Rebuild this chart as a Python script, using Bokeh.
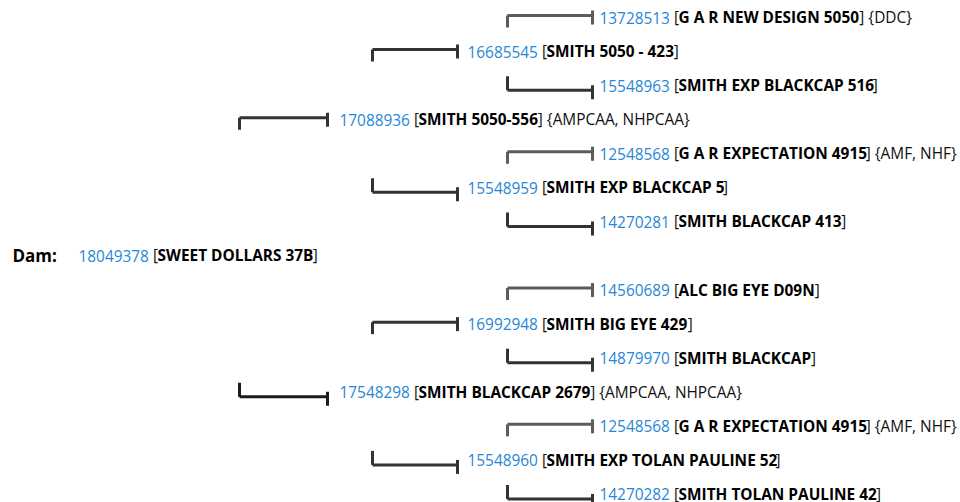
from bokeh.plotting import figure
from bokeh.models import Range1d, ColumnDataSource
from bokeh.embed import file_html
from bokeh.resources import INLINE
from bokeh.core.properties import value

# ---- data (top to bottom) ----
reg_ids = ["13728513", "16685545", "15548963", "17088936", "12548568",
           "15548959", "14270281", "18049378", "14560689", "16992948",
           "14879970", "17548298", "12548568", "15548960", "14270282"]
names = ["G A R NEW DESIGN 5050", "SMITH 5050 - 423", "SMITH EXP BLACKCAP 516",
         "SMITH 5050-556", "G A R EXPECTATION 4915", "SMITH EXP BLACKCAP 5",
         "SMITH BLACKCAP 413", "SWEET DOLLARS 37B", "ALC BIG EYE D09N",
         "SMITH BIG EYE 429", "SMITH BLACKCAP", "SMITH BLACKCAP 2679",
         "G A R EXPECTATION 4915", "SMITH EXP TOLAN PAULINE 52",
         "SMITH TOLAN PAULINE 42"]
notes = ["{DDC}", "", "", "{AMPCAA, NHPCAA}", "{AMF, NHF}", "", "", "", "", "",
         "", "{AMPCAA, NHPCAA}", "{AMF, NHF}", "", ""]
generation = [3, 2, 3, 1, 3, 2, 3, 0, 3, 2, 3, 1, 3, 2, 3]
side = ["sire", "sire", "dam", "sire", "sire", "dam", "dam", "root",
        "sire", "sire", "dam", "dam", "sire", "dam", "dam"]
root_label = "Dam:"

# ---- layout ----
FS = 15.4  # px
ROW0, DROW = 17.0, 34.07
TEXT_X = {0: 78, 1: 339, 2: 467, 3: 599}
LEFT_X = {1: 239, 2: 372, 3: 507}
RIGHT_X = {1: 327, 2: 457, 3: 592}
BLUE = "#2787d6"

REG = {" ": 532, ",": 502, "-": 659, ":": 545, "[": 621, "]": 621, "{": 774, "}": 774,
       "A": 1296, "B": 1327, "C": 1292, "D": 1493, "E": 1139, "F": 1057, "G": 1491,
       "H": 1511, "I": 571, "K": 1296, "L": 1077, "M": 1849, "N": 1591, "O": 1593,
       "P": 1260, "R": 1292, "S": 1124, "T": 1139, "U": 1518, "W": 1937, "Y": 1165}
BOLD = {" ": 532, "-": 659, ":": 586}
BOLD_LETTERS = {"A": 1456, "B": 1413, "C": 1343, "D": 1552,
                "E": 1200, "G": 1540, "H": 1599, "I": 758, "K": 1399, "L": 1169, "M": 1933,
                "N": 1675, "O": 1628, "P": 1346, "R": 1394, "S": 1159, "T": 1217, "U": 1587,
                "W": 2056, "Y": 1313}
for k, v in BOLD_LETTERS.items():
    BOLD[k] = v * 0.97


def tw(s, table, size=FS):
    return sum(table.get(c, 1171) for c in s) / 2048.0 * size


p = figure(width=960, height=502, output_backend="svg", toolbar_location=None,
           x_range=Range1d(0, 960), y_range=Range1d(502, 0),
           x_axis_type=None, y_axis_type=None, min_border=0,
           outline_line_color=None, background_fill_color="white",
           border_fill_color="white")
p.grid.visible = False

num = dict(x=[], y=[], t=[])
opn = dict(x=[], y=[], t=[])
nam = dict(x=[], y=[], t=[])
cls = dict(x=[], y=[], t=[])
seg = dict(x0=[], y0=[], x1=[], y1=[], c=[])

for i, rid in enumerate(reg_ids):
    g = generation[i]
    y = ROW0 + i * DROW
    x = TEXT_X[g]
    num["x"].append(x); num["y"].append(y); num["t"].append(rid)
    x2 = x + tw(rid + " ", REG)
    opn["x"].append(x2); opn["y"].append(y); opn["t"].append("[")
    x3 = x2 + tw("[", REG)
    nam["x"].append(x3); nam["y"].append(y); nam["t"].append(names[i])
    x4 = x3 + tw(names[i], BOLD)
    tail = "]" + (" " + notes[i] if notes[i] else "")
    cls["x"].append(x4); cls["y"].append(y); cls["t"].append(tail)
    if g == 0:
        continue
    if side[i] == "sire":
        hy = y - 2
        ty = hy + 12
        col = "#5c5c5c" if g == 3 else "#333333"
    else:
        hy = y + 4.5
        ty = hy - 14
        col = "#1c1c1c" if g == 1 else "#333333"
    lx, rx = LEFT_X[g], RIGHT_X[g]
    for (a, b, c, d) in [(lx, ty, lx, hy), (lx, hy, rx, hy), (rx, hy - 5, rx, hy + 9)]:
        seg["x0"].append(a); seg["y0"].append(b); seg["x1"].append(c); seg["y1"].append(d)
        seg["c"].append(col)

p.segment("x0", "y0", "x1", "y1", source=ColumnDataSource(seg), line_color="c",
          line_width=3, line_cap="butt")

common = dict(text_font=value("Open Sans"), text_font_size="15.4px", text_baseline="middle")
p.text("x", "y", text="t", source=ColumnDataSource(num), text_color=BLUE, **common)
p.text("x", "y", text="t", source=ColumnDataSource(opn), text_color="#111111", **common)
p.text("x", "y", text="t", source=ColumnDataSource(nam), text_color="#000000",
       text_font_style="bold", **common)
p.text("x", "y", text="t", source=ColumnDataSource(cls), text_color="#111111", **common)

root_i = generation.index(0)
p.text(x=[12], y=[ROW0 + root_i * DROW], text=[root_label], text_font=value("Open Sans"),
       text_font_size="17px", text_font_style="bold", text_baseline="middle",
       text_color="#000000")

open("out.html", "w").write(file_html(p, INLINE))
